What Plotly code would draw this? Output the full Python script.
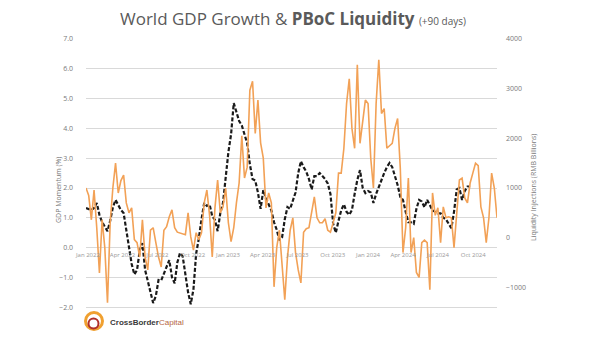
import pandas as pd
import plotly.graph_objects as go

# Weekly observations, starting the week of 27 Dec 2021
START = "2021-12-27"

# PBoC liquidity injections, RMB billions (shifted +90 days)
pboc_liquidity = [
    1000, 850, 360, 960, 200, -710, 360, -200, -1310, 300,
    1000, 1500, 900, 1150, 1260, 700, 500, 600, -40, -100,
    -390, 360, -390, -650, 150, 200, -100, -390, -590, 150,
    220, 420, 560, 200, 110, 90, 70, 60, 500, 15,
    -250, 100, -40, 100, 700, 960, 450, -390, 600, 1160,
    500, 620, 1000, 300, -80, 200, 700, 1100, 2050, 1200,
    1420, 2970, 3150, 2100, 2770, 1910, 1600, 600, 900, 700,
    -990, -200, 150, -590, -1250, -400, 150, 400, -300, -650,
    -910, 110, 180, 200, 550, 820, 400, 300, 300, 380,
    150, 110, 300, 500, 1300, 1300, 1800, 2700, 3200, 2200,
    1800, 3480, 1900, 2300, 2770, 2700, 1600, 1000, 2700, 3580,
    2500, 2600, 1800, 1850, 1900, 2200, 2400, 1400, -300, 200,
    1200, -300, 0, -700, -800, -100, -50, -100, -1050, 900,
    450, 600, -100, 620, 400, 420, 400, -200, 500, 1160,
    1200, 800, 700, 1100, 1300, 1500, 1450, 620, 400, -100,
    400, 1300, 1000, 400,
]

# World GDP momentum, %
gdp_momentum = [
    1.33, 1.30, 1.26, 1.33, 1.50, 1.10, 0.86, 0.70, 0.55, 0.90,
    1.35, 1.60, 1.45, 1.26, 1.16, 0.50, 0.02, -0.55, -0.90, -0.75,
    -0.10, 0.15, -0.75, -1.12, -1.45, -1.86, -1.62, -1.09, -1.10, -0.88,
    -0.70, -0.42, -0.99, -1.20, -0.50, -0.18, -0.30, -0.90, -1.50, -1.90,
    -1.40, -0.20, 0.30, 0.95, 1.50, 1.40, 1.45, 1.05, 0.93, 0.55,
    1.16, 1.50, 2.40, 3.20, 3.80, 4.85, 4.55, 4.25, 4.10, 3.80,
    3.50, 2.80, 2.30, 2.25, 1.85, 1.30, 1.93, 1.65, 1.45, 1.25,
    0.85, 0.60, 0.25, 0.35, 0.95, 1.36, 1.30, 1.60, 1.85, 2.50,
    2.90, 2.70, 2.55, 2.30, 1.95, 2.40, 2.40, 2.50, 2.40, 2.30,
    2.15, 1.80, 0.80, 0.50, 0.90, 1.25, 1.45, 1.20, 1.10, 1.26,
    1.80, 2.27, 2.60, 2.00, 1.83, 1.90, 1.85, 1.50, 1.80, 2.05,
    2.30, 2.50, 2.70, 2.84, 2.70, 2.40, 2.10, 1.70, 1.60, 1.20,
    0.85, 0.85, 0.80, 1.30, 1.60, 1.55, 1.35, 1.60, 1.40, 1.25,
    1.20, 1.15, 1.15, 1.00, 0.95, 0.80, 0.65, 1.20, 1.95, 2.00,
    1.60, 1.90, 2.05, 2.05,
]

# Axis ticks
gdp_ticks = [-3, -2, -1, 0, 1, 2, 3, 4, 5, 6, 7]
liq_ticks = [-2000, -1000, 0, 1000, 2000, 3000, 4000]
tick_dates = ["2022-01-01", "2022-04-01", "2022-07-01", "2022-10-01",
              "2023-01-01", "2023-04-01", "2023-07-01", "2023-10-01",
              "2024-01-01", "2024-04-01", "2024-07-01", "2024-10-01"]
tick_labels = ["Jan 2022", "Apr 2022", "Jul 2022", "Oct 2022",
               "Jan 2023", "Apr 2023", "Jul 2023", "Oct 2023",
               "Jan 2024", "Apr 2024", "Jul 2024", "Oct 2024"]

liq_dates = pd.date_range(START, periods=len(pboc_liquidity), freq="7D")
gdp_dates = pd.date_range(START, periods=len(gdp_momentum), freq="7D")

ORANGE = "#F2A156"
GRID = "#d9d9d9"
TICK = "#7a7a7a"
FONT = "Open Sans"

fig = go.Figure()

# Liquidity on the overlay axes (date labels crossing at GDP = 0, RMB on the right)
fig.add_trace(go.Scatter(
    x=liq_dates, y=pboc_liquidity, xaxis="x2", yaxis="y2", mode="lines",
    line=dict(color=ORANGE, width=1.6), name="PBoC Liquidity",
))
fig.add_trace(go.Scatter(
    x=gdp_dates, y=gdp_momentum, xaxis="x", yaxis="y", mode="lines",
    line=dict(color="#1a1a1a", width=2.2, dash="4px,2px"),
    name="World GDP Momentum",
))

GDP_MIN, GDP_MAX = gdp_ticks[0], gdp_ticks[-1]
x_range = [liq_dates[0], liq_dates[-1]]

fig.update_layout(
    width=590, height=339,
    margin=dict(l=86, r=93, t=39, b=2),
    paper_bgcolor="white", plot_bgcolor="white",
    showlegend=False,
    font=dict(family=FONT, color=TICK, size=7),
    title=dict(
        text="World GDP Growth & <b>PBoC Liquidity</b> "
             "<span style='font-size:10px'>(+90 days)</span>",
        x=293 / 590, xanchor="center", xref="container",
        y=1 - 19 / 339, yanchor="middle", yref="container",
        font=dict(family=FONT, size=17, color="#5a5a5a"),
    ),
    xaxis=dict(
        type="date", range=x_range, anchor="y",
        showticklabels=False, showgrid=False, showline=False,
        zeroline=False, ticks="",
    ),
    xaxis2=dict(
        type="date", range=x_range, matches="x", overlaying="x",
        anchor="free",
        position=(0 - GDP_MIN) / (GDP_MAX - GDP_MIN),
        tickvals=tick_dates, ticktext=tick_labels,
        showgrid=False, showline=False, zeroline=False, ticks="",
        tickfont=dict(size=6, color="#999999"),
        ticklabelstandoff=2,
    ),
    yaxis=dict(
        range=[GDP_MIN, GDP_MAX], tickvals=gdp_ticks, tickformat=".1f",
        anchor="x", showgrid=True, gridcolor=GRID, gridwidth=1,
        zeroline=False, showline=False, ticks="",
        ticklabelstandoff=12,
        tickfont=dict(size=7, color=TICK),
    ),
    yaxis2=dict(
        range=[liq_ticks[0], liq_ticks[-1]], tickvals=liq_ticks,
        overlaying="y", side="right", anchor="x",
        showgrid=False, zeroline=False, showline=False, ticks="",
        ticklabelstandoff=8,
        tickfont=dict(size=7, color=TICK),
    ),
)

# Axis titles
fig.add_annotation(
    text="GDP Momentum (%)", textangle=-90,
    xref="paper", yref="paper",
    x=-(86 - 58) / 411, y=(337 - 190) / 298,
    xanchor="center", yanchor="middle", showarrow=False,
    font=dict(size=7, color=TICK, family=FONT),
)
fig.add_annotation(
    text="Liquidity Injections (RMB Billions)", textangle=-90,
    xref="paper", yref="paper",
    x=1 + (533 - 497) / 411, y=(337 - 188) / 298,
    xanchor="center", yanchor="middle", showarrow=False,
    font=dict(size=7, color=TICK, family=FONT),
)

# Brand mark: ring logo and wordmark
cx, cy, r = 94, 321, 8.5
def px_to_paper(px, py):
    return (px - 86) / 411, (337 - py) / 298

x0, y0 = px_to_paper(cx - r, cy + r)
x1, y1 = px_to_paper(cx + r, cy - r)
fig.add_shape(type="circle", xref="paper", yref="paper",
              x0=x0, y0=y0, x1=x1, y1=y1,
              line=dict(color="#F0A030", width=3), layer="above")
x0, y0 = px_to_paper(cx - r + 3, cy + r - 1)
x1, y1 = px_to_paper(cx + r - 4, cy - r + 6)
fig.add_shape(type="circle", xref="paper", yref="paper",
              x0=x0, y0=y0, x1=x1, y1=y1,
              line=dict(color="#B0302A", width=2), layer="above")
lx, ly = px_to_paper(108, 322)
fig.add_annotation(
    text="<b>CrossBorder</b><span style='color:#b5653f'>Capital</span>",
    xref="paper", yref="paper", x=lx, y=ly,
    xanchor="left", yanchor="middle", showarrow=False,
    font=dict(size=8, color="#3a3a3a", family="Liberation Sans"),
)

fig.write_html("out.html")
